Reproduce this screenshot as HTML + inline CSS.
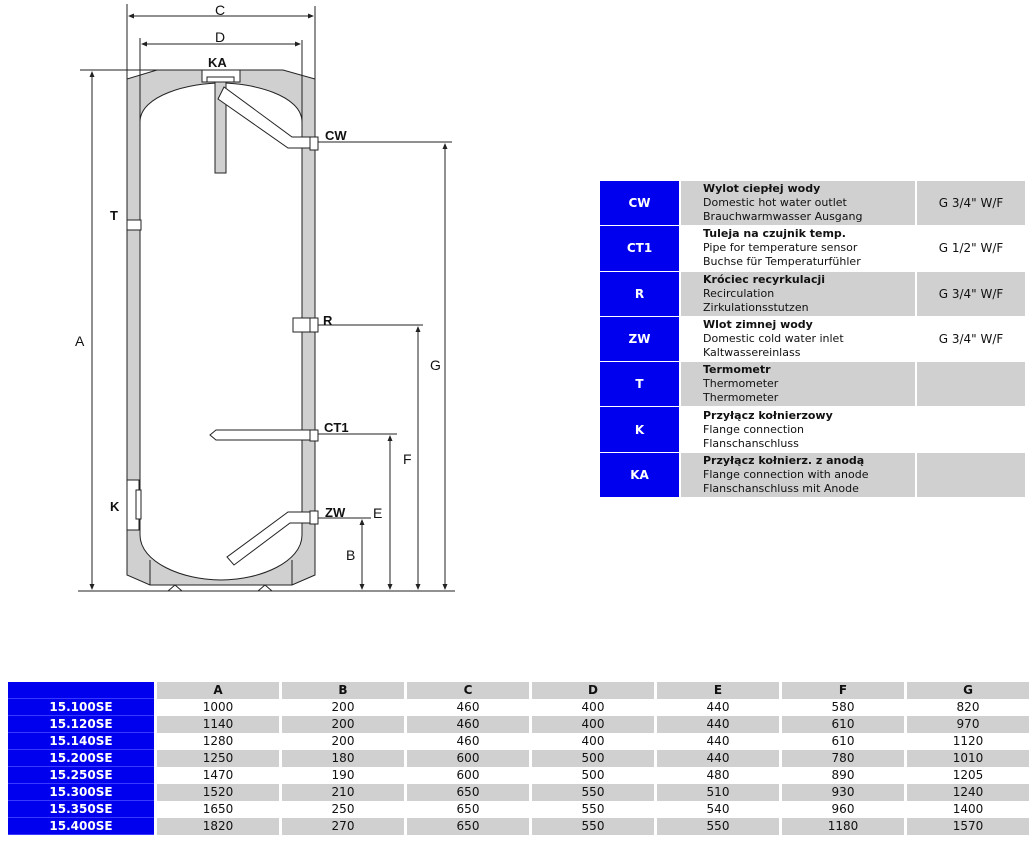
<!DOCTYPE html>
<html><head><meta charset="utf-8"><style>
body{margin:0;width:1034px;height:843px;background:#fff;position:relative;font-family:"DejaVu Sans","Liberation Sans",sans-serif;overflow:hidden}
svg{position:absolute;left:0;top:0}
.lg{position:absolute;left:600px;top:181px;border-collapse:separate;border-spacing:2px 1px;margin:-1px -2px}
.lg td{height:44.3px;padding:0;font-size:11px;line-height:14px;color:#111}
.lg td.k{background:#0000ee;color:#fff;font-weight:bold;text-align:center;width:79px;font-size:12px}
.lg td.d{width:212px;padding-left:22px}
.lg td.s{width:108px;text-align:center;font-size:12px}
.g td.d,.g td.s{background:#d0d0d0}
.bt{position:absolute;left:8px;top:682px;border-collapse:separate;border-spacing:3px 0;margin-left:-3px}
.bt td{height:17px;padding:0;font-size:12px;text-align:center;line-height:15px;width:122px;color:#111;box-sizing:border-box}
.bt td.k{background:#0000ee;color:#fff;font-weight:bold;width:146px;border-bottom:1px solid #3a3aff}
.bt tr.g td{background:#d0d0d0}
.bt tr.g td.k{background:#0000ee}
.bt tr.h td{font-weight:bold;background:#d0d0d0}
.bt tr.h td.k{background:#0000ee}
</style></head><body>
<svg width="1034" height="843" viewBox="0 0 1034 843">
<g stroke="#222" stroke-width="1" fill="none">
<path d="M127,79 L157,70 L283,70 L315,79 L315,575 L292,585 L150,585 L127,575 Z" fill="#d0d0d0"/>
<path d="M140,122 C140,95 190,83 221,83 C252,83 302,95 302,122 L302,535 C302,562 260,580 221,580 C182,580 140,562 140,535 Z" fill="#fff"/>
<line x1="150" y1="560" x2="150" y2="585"/><line x1="292" y1="560" x2="292" y2="585"/>
<path d="M168,591 L175,585 L182,591 M258,591 L265,585 L272,591"/>
<rect x="202" y="70" width="38" height="12" fill="#fff"/>
<rect x="207" y="77" width="27" height="5" fill="#fff"/>
<rect x="215" y="82" width="11" height="91" fill="#d0d0d0"/>
<path d="M224,87 L218,99 L288,148 L310,148 L310,137 L292,137 Z" fill="#fff"/>
<rect x="310" y="137" width="8" height="13" fill="#fff"/>
<rect x="127" y="220" width="14" height="10" fill="#fff"/>
<rect x="293" y="318" width="17" height="14" fill="#fff"/>
<rect x="310" y="318" width="8" height="14" fill="#fff"/>
<path d="M310,430 L216,430 L210,435 L216,440 L310,440" fill="#fff"/>
<rect x="310" y="430" width="8" height="11" fill="#fff"/>
<path d="M310,512 L288,512 L227,557 L234,565 L290,523 L310,523 Z" fill="#fff"/>
<rect x="310" y="511" width="8" height="13" fill="#fff"/>
<rect x="127" y="480" width="12" height="50" fill="#fff"/>
<rect x="136" y="490" width="5" height="29" fill="#fff"/>
<line x1="127" y1="4" x2="127" y2="79"/><line x1="315" y1="6" x2="315" y2="79"/>
<line x1="129" y1="16" x2="313" y2="16"/>
<line x1="140" y1="38" x2="140" y2="122"/><line x1="302" y1="40" x2="302" y2="122"/>
<line x1="142" y1="44" x2="300" y2="44"/>
<line x1="80" y1="70" x2="180" y2="70"/>
<line x1="92" y1="72" x2="92" y2="589"/>
<line x1="78" y1="591" x2="455" y2="591"/>
<line x1="318" y1="142" x2="452" y2="142"/><line x1="445" y1="144" x2="445" y2="589"/>
<line x1="318" y1="325" x2="423" y2="325"/><line x1="418" y1="327" x2="418" y2="589"/>
<line x1="318" y1="434" x2="397" y2="434"/><line x1="390" y1="436" x2="390" y2="589"/>
<line x1="318" y1="518" x2="371" y2="518"/><line x1="362" y1="520" x2="362" y2="589"/>
</g>
<g fill="#222">
<path d="M128,16 l6,-2.5 v5z M314,16 l-6,-2.5 v5z M141,44 l6,-2.5 v5z M301,44 l-6,-2.5 v5z"/>
<path d="M92,71 l-2.5,6 h5z M92,590 l-2.5,-6 h5z"/>
<path d="M445,143 l-2.5,6 h5z M445,590 l-2.5,-6 h5z M418,326 l-2.5,6 h5z M418,590 l-2.5,-6 h5z"/>
<path d="M390,435 l-2.5,6 h5z M390,590 l-2.5,-6 h5z M362,519 l-2.5,6 h5z M362,590 l-2.5,-6 h5z"/>
</g>
<g font-family="Liberation Sans, sans-serif" font-size="14" fill="#111">
<text x="215" y="15">C</text><text x="215" y="42">D</text>
<text x="75" y="346">A</text><text x="430" y="370">G</text><text x="403" y="464">F</text>
<text x="373" y="518">E</text><text x="346" y="560">B</text>
</g>
<g font-family="Liberation Sans, sans-serif" font-size="13" font-weight="bold" fill="#111">
<text x="208" y="67">KA</text><text x="325" y="140">CW</text><text x="110" y="220">T</text>
<text x="323" y="325">R</text><text x="324" y="432">CT1</text><text x="325" y="517">ZW</text>
<text x="110" y="511">K</text>
</g>
</svg>
<table class="lg">
<tr class="g"><td class="k">CW</td><td class="d"><b>Wylot ciepłej wody</b><br>Domestic hot water outlet<br>Brauchwarmwasser Ausgang</td><td class="s">G 3/4" W/F</td></tr>
<tr><td class="k">CT1</td><td class="d"><b>Tuleja na czujnik temp.</b><br>Pipe for temperature sensor<br>Buchse für Temperaturfühler</td><td class="s">G 1/2" W/F</td></tr>
<tr class="g"><td class="k">R</td><td class="d"><b>Króciec recyrkulacji</b><br>Recirculation<br>Zirkulationsstutzen</td><td class="s">G 3/4" W/F</td></tr>
<tr><td class="k">ZW</td><td class="d"><b>Wlot zimnej wody</b><br>Domestic cold water inlet<br>Kaltwassereinlass</td><td class="s">G 3/4" W/F</td></tr>
<tr class="g"><td class="k">T</td><td class="d"><b>Termometr</b><br>Thermometer<br>Thermometer</td><td class="s"></td></tr>
<tr><td class="k">K</td><td class="d"><b>Przyłącz kołnierzowy</b><br>Flange connection<br>Flanschanschluss</td><td class="s"></td></tr>
<tr class="g"><td class="k">KA</td><td class="d"><b>Przyłącz kołnierz. z anodą</b><br>Flange connection with anode<br>Flanschanschluss mit Anode</td><td class="s"></td></tr>
</table>
<table class="bt">
<tr class="h"><td class="k"></td><td>A</td><td>B</td><td>C</td><td>D</td><td>E</td><td>F</td><td>G</td></tr>
<tr><td class="k">15.100SE</td><td>1000</td><td>200</td><td>460</td><td>400</td><td>440</td><td>580</td><td>820</td></tr>
<tr class="g"><td class="k">15.120SE</td><td>1140</td><td>200</td><td>460</td><td>400</td><td>440</td><td>610</td><td>970</td></tr>
<tr><td class="k">15.140SE</td><td>1280</td><td>200</td><td>460</td><td>400</td><td>440</td><td>610</td><td>1120</td></tr>
<tr class="g"><td class="k">15.200SE</td><td>1250</td><td>180</td><td>600</td><td>500</td><td>440</td><td>780</td><td>1010</td></tr>
<tr><td class="k">15.250SE</td><td>1470</td><td>190</td><td>600</td><td>500</td><td>480</td><td>890</td><td>1205</td></tr>
<tr class="g"><td class="k">15.300SE</td><td>1520</td><td>210</td><td>650</td><td>550</td><td>510</td><td>930</td><td>1240</td></tr>
<tr><td class="k">15.350SE</td><td>1650</td><td>250</td><td>650</td><td>550</td><td>540</td><td>960</td><td>1400</td></tr>
<tr class="g"><td class="k">15.400SE</td><td>1820</td><td>270</td><td>650</td><td>550</td><td>550</td><td>1180</td><td>1570</td></tr>
</table>
</body></html>
